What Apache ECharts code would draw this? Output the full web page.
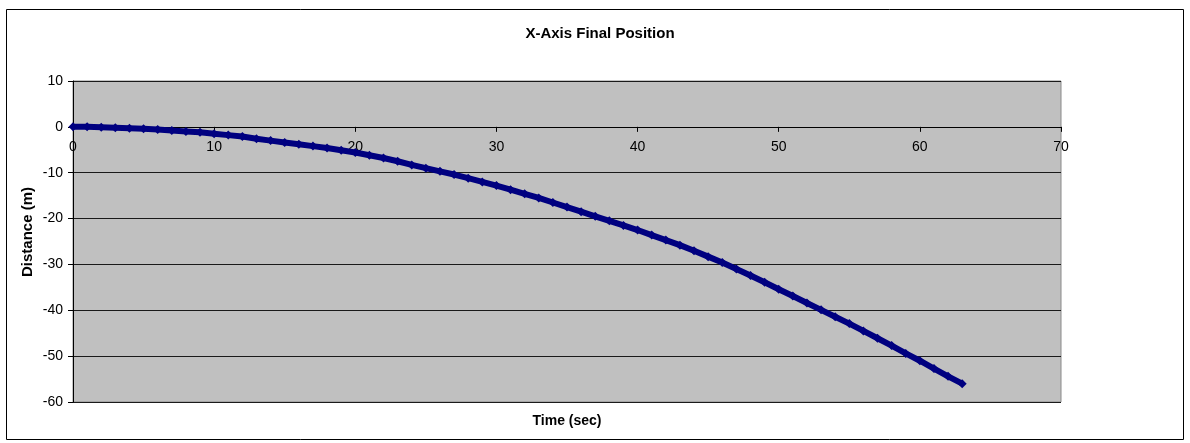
<!DOCTYPE html>
<html>
<head>
<meta charset="utf-8">
<title>X-Axis Final Position</title>
<script src="https://cdn.jsdelivr.net/npm/echarts@6/dist/echarts.min.js"></script>
<style>
  html, body { margin: 0; padding: 0; background: #ffffff; }
  #chart { width: 1190px; height: 443px; }
</style>
</head>
<body>
<div id="chart"></div>
<script>
// Elapsed time of each sample (s)
const times = [
  0, 1, 2, 3, 4, 5, 6, 7, 8, 9,
  10, 11, 12, 13, 14, 15, 16, 17, 18, 19,
  20, 21, 22, 23, 24, 25, 26, 27, 28, 29,
  30, 31, 32, 33, 34, 35, 36, 37, 38, 39,
  40, 41, 42, 43, 44, 45, 46, 47, 48, 49,
  50, 51, 52, 53, 54, 55, 56, 57, 58, 59,
  60, 61, 62, 63
];

// Final X-axis position at each sample (m)
const distance = [
  0.0, 0.0, -0.1, -0.2, -0.3, -0.4, -0.6, -0.8, -1.0, -1.2,
  -1.5, -1.8, -2.1, -2.6, -3.0, -3.4, -3.8, -4.2, -4.6, -5.1,
  -5.6, -6.2, -6.8, -7.5, -8.3, -9.0, -9.7, -10.4, -11.2, -12.0,
  -12.8, -13.7, -14.6, -15.5, -16.5, -17.5, -18.5, -19.5, -20.5, -21.5,
  -22.5, -23.6, -24.7, -25.8, -27.0, -28.3, -29.6, -31.0, -32.4, -33.9,
  -35.4, -36.9, -38.4, -39.9, -41.4, -42.9, -44.5, -46.1, -47.7, -49.4,
  -51.0, -52.7, -54.4, -56.0
];

const chartTitle = 'X-Axis Final Position';
const xAxisTitle = 'Time (sec)';
const yAxisTitle = 'Distance (m)';

const FONT = '"Liberation Sans", Arial, sans-serif';

const Y_MIN = -60;
const Y_MAX = 10;
const GRID_TOP = 81;
const GRID_BOTTOM = 41;
const CHART_H = 443;

// The time axis crosses the distance axis at 0 m; shift it up from the
// bottom edge of the plot by the pixel distance between -60 and 0.
const plotH = CHART_H - GRID_TOP - GRID_BOTTOM;
const zeroShift = plotH * (0 - Y_MIN) / (Y_MAX - Y_MIN);

const points = times.map((t, i) => [t, distance[i]]);

const chart = echarts.init(document.getElementById('chart'), null, { renderer: 'canvas' });

chart.setOption({
  animation: false,
  backgroundColor: '#ffffff',
  textStyle: { fontFamily: FONT },
  grid: {
    left: 73,
    top: GRID_TOP,
    right: 129,
    bottom: GRID_BOTTOM,
    show: true,
    backgroundColor: '#c0c0c0',
    borderColor: '#8a8a8a',
    borderWidth: 1
  },
  xAxis: {
    type: 'value',
    position: 'bottom',
    offset: -zeroShift,
    min: 0,
    max: 70,
    interval: 10,
    axisLine: { show: true, onZero: false, lineStyle: { color: '#000000', width: 1 } },
    axisTick: { show: true, inside: false, length: 5, lineStyle: { color: '#000000' } },
    axisLabel: { color: '#000000', fontSize: 14, fontFamily: FONT, margin: 13 },
    splitLine: { show: false }
  },
  yAxis: {
    type: 'value',
    min: Y_MIN,
    max: Y_MAX,
    interval: 10,
    axisLine: { show: true, onZero: false, lineStyle: { color: '#000000', width: 1 } },
    axisTick: { show: true, inside: false, length: 5, lineStyle: { color: '#000000' } },
    axisLabel: { color: '#000000', fontSize: 14, fontFamily: FONT, margin: 10 },
    splitLine: { show: true, lineStyle: { color: '#1a1a1a', width: 1 } }
  },
  series: [{
    type: 'line',
    data: points,
    lineStyle: { color: '#000080', width: 6 },
    itemStyle: { color: '#000080' },
    symbol: 'diamond',
    symbolSize: 9,
    showSymbol: true,
    z: 3
  }],
  graphic: [
    {
      type: 'rect',
      shape: { x: 6.5, y: 9.5, width: 1177, height: 430 },
      style: { fill: 'none', stroke: '#000000', lineWidth: 1 },
      silent: true
    },
    {
      type: 'text',
      x: 600, y: 34,
      style: {
        text: chartTitle, fill: '#000000', font: 'bold 15px ' + FONT,
        align: 'center', verticalAlign: 'middle'
      }
    },
    {
      type: 'text',
      x: 567, y: 421,
      style: {
        text: xAxisTitle, fill: '#000000', font: 'bold 14px ' + FONT,
        align: 'center', verticalAlign: 'middle'
      }
    },
    {
      type: 'text',
      x: 28, y: 232,
      rotation: Math.PI / 2,
      style: {
        text: yAxisTitle, fill: '#000000', font: 'bold 15px ' + FONT,
        align: 'center', verticalAlign: 'middle'
      }
    }
  ]
});
</script>
</body>
</html>
